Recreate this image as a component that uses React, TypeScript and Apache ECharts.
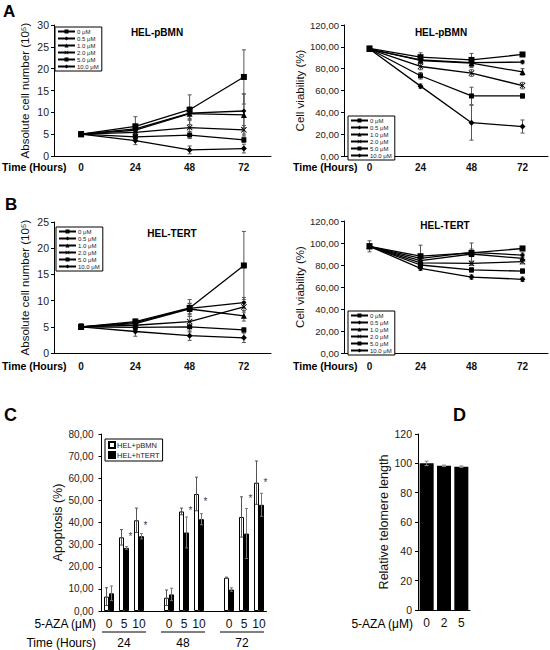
import React, { useEffect, useRef } from "react";
import * as echarts from "echarts";

const HOURS = ["0", "24", "48", "72"];
const DOSES = ["0 μM", "0.5 μM", "1.0 μM", "2.0 μM", "5.0 μM", "10.0 μM"];

// Panel A – HEL-pBMN
const countPBMN = [
  [5, 6.8, 10.6, 18.1],
  [5, 6.2, 9.8, 10.3],
  [5, 5.9, 9.7, 9.4],
  [5, 5.4, 6.5, 6.0],
  [5, 4.4, 4.8, 3.7],
  [5, 3.5, 1.4, 1.7],
];
const countPBMNErr = [
  [0.5, 2.2, 3.4, 6.2],
  [0.4, 0.8, 1.2, 3.9],
  [0.4, 0.8, 1.5, 4.8],
  [0.4, 0.6, 1.8, 1.0],
  [0.4, 0.6, 0.8, 0.6],
  [0.5, 0.9, 0.9, 1.0],
];
const viabPBMN = [
  [98.5, 90.5, 88, 93],
  [98, 88, 85.5, 86],
  [98, 87.5, 85, 77],
  [98, 82, 76, 64.5],
  [98, 73.5, 55, 55],
  [98, 64, 30.5, 27],
];
const viabPBMNErr = [
  [2, 4, 6, 1.5],
  [1.5, 3, 2, 1.5],
  [1.5, 3, 4, 3],
  [1.5, 3, 3, 3],
  [1.5, 3, 8, 2],
  [1.5, 2, 16, 6],
];

// Panel B – HEL-TERT
const countTERT = [
  [5, 6.0, 8.6, 16.7],
  [5, 5.8, 8.5, 9.6],
  [5, 5.6, 8.4, 7.1],
  [5, 5.3, 6.0, 8.8],
  [5, 4.9, 5.0, 4.4],
  [5, 4.1, 3.3, 2.9],
];
const countTERTErr = [
  [0.5, 0.5, 1.6, 6.5],
  [0.5, 0.5, 1.0, 1.0],
  [0.5, 0.5, 1.0, 1.0],
  [0.5, 0.5, 1.0, 1.0],
  [0.5, 0.5, 1.0, 0.4],
  [0.5, 0.9, 0.9, 0.9],
];
const viabTERT = [
  [97, 88, 91, 95],
  [97, 86, 91.5, 89],
  [97, 84, 90, 86],
  [97, 82, 81.5, 83],
  [97, 80, 75.5, 74.5],
  [97, 77, 69, 67],
];
const viabTERTErr = [
  [5, 10, 9, 2],
  [2, 3, 3, 2],
  [2, 2, 2, 2],
  [2, 2, 2, 2],
  [2, 2, 2, 2],
  [2, 2, 2, 2],
];

// Panel C – apoptosis
const APO_TIMES = ["24", "48", "72"];
const APO_DOSES = ["0", "5", "10"];
const APO_NAMES = ["HEL+pBMN", "HEL+hTERT"];
const apoPBMN = [6.5, 33.3, 41, 6, 45, 52.9, 15, 42.5, 58];
const apoPBMNErr = [4, 3.5, 5.5, 3.5, 1.5, 7.6, 0.3, 9.1, 9.8];
const apoTERT = [8, 28.5, 33.8, 7.5, 35.5, 41.5, 9.7, 35, 48];
const apoTERTErr = [3.3, 0.6, 1.2, 2.8, 7, 2.5, 0.8, 11.3, 5.2];
const apoStars = [null, 35, 40, null, 46.5, 50.5, null, 52, 59];

// Panel D – telomere length
const TEL_DOSES = ["0", "2", "5"];
const telomere = [100, 98.3, 97.7];
const telomereErr = [1.5, 0.5, 0.5];

const FONT = "Liberation Sans, Arial, sans-serif";
const SYMBOLS = [
  "rect",
  "diamond",
  "triangle",
  "path://M0,1L1,0L5,4L9,0L10,1L6,5L10,9L9,10L5,6L1,10L0,9L4,5Z",
  "rect",
  "diamond",
];
const SYMBOL_SIZES = [6, 5, 6, 6, 5, 6];

const comma = (v: number) => v.toFixed(2).replace(".", ",");

// map 9 bars (3 groups x 3 doses) onto 11 category slots (with spacers)
const slotOf = (i: number) => Math.floor(i / 3) * 4 + (i % 3);
const C_SLOTS: string[] = [];
for (let g = 0; g < APO_TIMES.length; g++) {
  APO_DOSES.forEach((d) => C_SLOTS.push(d));
  if (g < APO_TIMES.length - 1) C_SLOTS.push("");
}
const toSlots = (arr: (number | null)[]) => {
  const out: (number | null)[] = C_SLOTS.map(() => null);
  arr.forEach((v, i) => (out[slotOf(i)] = v));
  return out;
};

function errRenderer(offset: number, color: string, capW: number) {
  return (params: any, api: any) => {
    const x = api.value(0);
    const lo = api.coord([x, api.value(1)]);
    const hi = api.coord([x, api.value(2)]);
    const cx = lo[0] + offset;
    const st = { stroke: color, lineWidth: 1 };
    return {
      type: "group",
      children: [
        { type: "line", shape: { x1: cx, y1: lo[1], x2: cx, y2: hi[1] }, style: st },
        { type: "line", shape: { x1: cx - capW, y1: hi[1], x2: cx + capW, y2: hi[1] }, style: st },
        { type: "line", shape: { x1: cx - capW, y1: lo[1], x2: cx + capW, y2: lo[1] }, style: st },
      ],
    };
  };
}

export default function App() {
  const ref = useRef<HTMLDivElement>(null);
  useEffect(() => {
    if (!ref.current) return;
    const chart = echarts.init(ref.current, null, { renderer: "svg" });

    const lineGrids = [
      { left: 54, top: 25, width: 217, height: 131 },
      { left: 344, top: 25, width: 204, height: 131 },
      { left: 54, top: 222, width: 217, height: 131 },
      { left: 344, top: 221, width: 204, height: 132 },
    ];
    const grids = [
      ...lineGrids,
      { left: 101.5, top: 434, width: 165, height: 177 },
      { left: 418, top: 434, width: 52, height: 176 },
    ];

    const lineData = [countPBMN, viabPBMN, countTERT, viabTERT];
    const lineErr = [countPBMNErr, viabPBMNErr, countTERTErr, viabTERTErr];
    const yMax = [30, 120, 25, 120];
    const yInt = [5, 20, 5, 20];
    const yFmt = [
      (v: number) => String(v),
      comma,
      (v: number) => String(v),
      comma,
    ];

    const axisLine = { show: true, lineStyle: { color: "#000", width: 1 } };
    const xAxes: any[] = lineGrids.map((_, g) => ({
      type: "category",
      gridIndex: g,
      data: HOURS,
      boundaryGap: true,
      axisLine,
      axisTick: { show: false },
      axisLabel: {
        color: "#111",
        fontFamily: FONT,
        fontSize: 10,
        fontWeight: "bold",
        margin: g >= 2 ? 8 : 6,
      },
    }));
    const yAxes: any[] = lineGrids.map((_, g) => ({
      type: "value",
      gridIndex: g,
      min: 0,
      max: yMax[g],
      interval: yInt[g],
      axisLine,
      axisTick: { show: true, length: 3, lineStyle: { color: "#000" } },
      splitLine: { show: false },
      axisLabel: {
        color: "#222",
        fontFamily: FONT,
        fontSize: g % 2 === 0 ? 10.5 : 9.5,
        margin: 5,
        formatter: yFmt[g],
      },
      name: g % 2 === 0 ? "Absolute cell number (10⁵)" : "Cell viability (%)",
      nameLocation: "middle",
      nameGap: g % 2 === 0 ? 23 : 33,
      nameTextStyle: { fontFamily: FONT, fontSize: 11.5, color: "#111" },
    }));

    // Panel C axes
    xAxes.push({
      type: "category",
      gridIndex: 4,
      data: C_SLOTS.map((_, i) => String(i)),
      boundaryGap: true,
      axisLine,
      axisTick: { show: false },
      axisLabel: {
        interval: 0,
        color: "#111",
        fontFamily: FONT,
        fontSize: 12,
        margin: 7,
        formatter: (_v: string, i: number) => C_SLOTS[i],
      },
    });
    yAxes.push({
      type: "value",
      gridIndex: 4,
      min: 0,
      max: 80,
      interval: 10,
      axisLine,
      axisTick: { show: true, length: 3, lineStyle: { color: "#000" } },
      splitLine: { show: false },
      axisLabel: { color: "#222", fontFamily: FONT, fontSize: 10, margin: 8, formatter: comma },
      name: "Apoptosis (%)",
      nameLocation: "middle",
      nameGap: 36,
      nameTextStyle: { fontFamily: FONT, fontSize: 12.5, color: "#111" },
    });

    // Panel D axes
    xAxes.push({
      type: "category",
      gridIndex: 5,
      data: TEL_DOSES,
      boundaryGap: true,
      axisLine,
      axisTick: { show: false },
      axisLabel: { color: "#111", fontFamily: FONT, fontSize: 12, margin: 7 },
    });
    yAxes.push({
      type: "value",
      gridIndex: 5,
      min: 0,
      max: 120,
      interval: 20,
      axisLine,
      axisTick: { show: true, length: 3, lineStyle: { color: "#000" } },
      splitLine: { show: false },
      axisLabel: { color: "#222", fontFamily: FONT, fontSize: 10.5, margin: 6 },
      name: "Relative telomere length",
      nameLocation: "middle",
      nameGap: 25,
      nameTextStyle: { fontFamily: FONT, fontSize: 12.5, color: "#111" },
    });

    const series: any[] = [];
    lineData.forEach((rows, g) => {
      rows.forEach((row, k) => {
        series.push({
          type: "line",
          name: DOSES[k],
          xAxisIndex: g,
          yAxisIndex: g,
          data: row,
          symbol: SYMBOLS[k],
          symbolSize: SYMBOL_SIZES[k],
          lineStyle: { color: "#000", width: 1.3 },
          itemStyle: { color: "#000" },
          z: 3,
        });
      });
      const errData: number[][] = [];
      rows.forEach((row, k) =>
        row.forEach((v, t) => errData.push([t, v - lineErr[g][k][t], v + lineErr[g][k][t]]))
      );
      series.push({
        type: "custom",
        xAxisIndex: g,
        yAxisIndex: g,
        data: errData,
        encode: { x: 0, y: [1, 2] },
        itemStyle: { color: "#555" },
        renderItem: errRenderer(0, "#555", 2),
        z: 2,
      });
    });

    // Panel C bars
    const cBarW = 5;
    series.push({
      type: "bar",
      name: APO_NAMES[0],
      xAxisIndex: 4,
      yAxisIndex: 4,
      data: toSlots(apoPBMN),
      barWidth: cBarW,
      barGap: "0%",
      itemStyle: { color: "#fff", borderColor: "#000", borderWidth: 1 },
    });
    series.push({
      type: "bar",
      name: APO_NAMES[1],
      xAxisIndex: 4,
      yAxisIndex: 4,
      data: toSlots(apoTERT),
      barWidth: cBarW,
      barGap: "0%",
      itemStyle: { color: "#000", borderColor: "#000", borderWidth: 1 },
    });
    const cErr = (vals: number[], errs: number[]) =>
      vals.map((v, i) => [slotOf(i), v - errs[i], v + errs[i]]);
    series.push({
      type: "custom",
      xAxisIndex: 4,
      yAxisIndex: 4,
      data: cErr(apoPBMN, apoPBMNErr),
      encode: { x: 0, y: [1, 2] },
      itemStyle: { color: "#555" },
      renderItem: errRenderer(-cBarW / 2, "#555", 1.5),
      z: 5,
    });
    series.push({
      type: "custom",
      xAxisIndex: 4,
      yAxisIndex: 4,
      data: cErr(apoTERT, apoTERTErr),
      encode: { x: 0, y: [1, 2] },
      itemStyle: { color: "#777" },
      renderItem: errRenderer(cBarW / 2, "#777", 1.5),
      z: 5,
    });
    series.push({
      type: "scatter",
      xAxisIndex: 4,
      yAxisIndex: 4,
      data: apoStars
        .map((v, i) => (v == null ? null : [slotOf(i), v]))
        .filter((d) => d != null),
      symbolSize: 1,
      itemStyle: { color: "rgba(0,0,0,0)" },
      label: {
        show: true,
        formatter: "*",
        position: [5, -2],
        color: "#000",
        fontSize: 10,
        fontFamily: FONT,
      },
      z: 6,
    });

    // Panel D bars
    series.push({
      type: "bar",
      xAxisIndex: 5,
      yAxisIndex: 5,
      data: telomere,
      barWidth: 14,
      itemStyle: { color: "#000" },
    });
    series.push({
      type: "custom",
      xAxisIndex: 5,
      yAxisIndex: 5,
      data: telomere.map((v, i) => [i, v - telomereErr[i], v + telomereErr[i]]),
      encode: { x: 0, y: [1, 2] },
      itemStyle: { color: "#888" },
      renderItem: errRenderer(0, "#888", 2),
      z: 5,
    });

    const lineLegend = (left: number, top: number) => ({
      left,
      top,
      orient: "vertical",
      data: DOSES,
      selectedMode: false,
      itemWidth: 17,
      itemHeight: 5,
      itemGap: 0,
      padding: [1, 3, 1, 2],
      borderColor: "#000",
      borderWidth: 1,
      backgroundColor: "#fff",
      textStyle: { fontFamily: FONT, fontSize: 6, lineHeight: 7, color: "#222", padding: [0, 0, 0, -3] },
    });

    const txt = (text: string, x: number, y: number, size: number, bold = false, align = "left") => ({
      type: "text",
      x,
      y,
      style: {
        text,
        fontFamily: FONT,
        fontSize: size,
        fontWeight: bold ? "bold" : "normal",
        fill: "#000",
        align,
        verticalAlign: "middle",
      },
    });
    const hline = (x1: number, x2: number, y: number) => ({
      type: "line",
      shape: { x1, y1: y, x2, y2: y },
      style: { stroke: "#000", lineWidth: 1 },
    });

    chart.setOption({
      animation: false,
      backgroundColor: "#fff",
      grid: grids,
      xAxis: xAxes,
      yAxis: yAxes,
      legend: [
        lineLegend(55, 27),
        lineLegend(348, 116),
        lineLegend(56, 227),
        lineLegend(348, 311),
        {
          left: 105,
          top: 439,
          orient: "vertical",
          data: APO_NAMES,
          selectedMode: false,
          icon: "rect",
          itemWidth: 6,
          itemHeight: 6,
          itemGap: 2,
          padding: [2, 3, 2, 3],
          borderColor: "#000",
          borderWidth: 1,
          backgroundColor: "#fff",
          textStyle: { fontFamily: FONT, fontSize: 7.5, color: "#222", padding: [0, 0, 0, -3] },
        },
      ],
      graphic: [
        txt("A", 3, 11, 17, true),
        txt("B", 5, 204, 17, true),
        txt("C", 4, 415, 18, true),
        txt("D", 453, 415, 18, true),
        txt("HEL-pBMN", 157, 32, 10, true, "center"),
        txt("HEL-pBMN", 441, 32, 10, true, "center"),
        txt("HEL-TERT", 172, 233, 10, true, "center"),
        txt("HEL-TERT", 445, 225, 10, true, "center"),
        txt("Time (Hours)", 2, 167, 10.5, true),
        txt("Time (Hours)", 293, 167, 10.5, true),
        txt("Time (Hours)", 2, 366, 10.5, true),
        txt("Time (Hours)", 293, 366, 10.5, true),
        txt("5-AZA (μM)", 96, 624, 12, false, "right"),
        txt("Time (Hours)", 96, 643, 12, false, "right"),
        hline(102, 146, 632),
        hline(161, 205, 632),
        hline(220, 264, 632),
        txt("24", 124, 643, 12, false, "center"),
        txt("48", 183, 643, 12, false, "center"),
        txt("72", 242, 643, 12, false, "center"),
        txt("5-AZA (μM)", 413, 624, 12, false, "right"),
      ],
      series,
    });
    return () => chart.dispose();
  }, []);

  return (
    <div
      ref={ref}
      style={{ position: "fixed", left: 0, top: 0, width: 550, height: 650, background: "#fff" }}
    />
  );
}
